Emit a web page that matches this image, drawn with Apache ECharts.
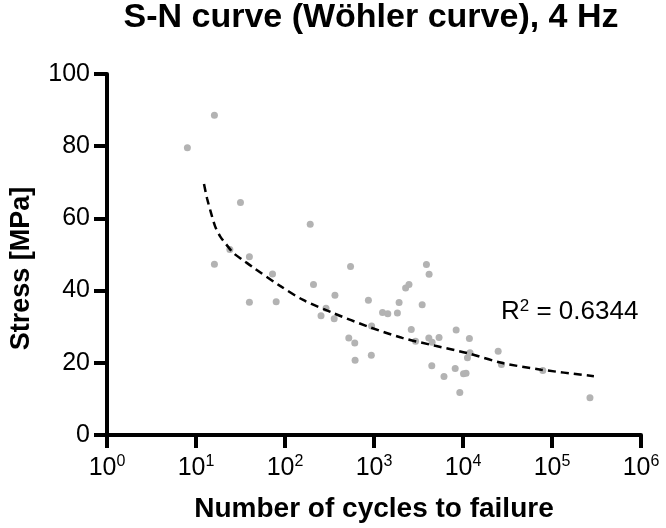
<!DOCTYPE html>
<html>
<head>
<meta charset="utf-8">
<script src="https://cdn.jsdelivr.net/npm/echarts@6/dist/echarts.min.js"></script>
<style>html,body{margin:0;padding:0;background:#fff}#c{width:666px;height:528px}</style>
</head>
<body>
<div id="c"></div>
<script>
// Measured data points (cycles to failure, stress in MPa)
var cycles = [8.0, 16.1, 31.6, 16.1, 24.0, 39.8, 39.8, 72.4, 79.6, 192, 209, 364, 289, 254, 357, 545, 865, 521, 608, 613, 940, 933, 1247, 1429,
  1832, 1914, 2266, 2472, 2623, 2930, 3477, 3882, 4160, 4130, 4497, 4460, 5383, 6115, 8375, 8170, 9205, 10130, 10820, 11800, 11990, 11220, 24840, 27040, 78800, 267000];
var stress = [79.6, 88.6, 64.4, 47.3, 51.4, 49.4, 36.8, 44.6, 36.9, 58.4, 41.7, 38.7, 35.1, 33.0, 32.2, 46.7, 37.3, 26.9, 25.5, 20.7, 30.2, 22.1, 33.9, 33.6,
  33.8, 36.7, 40.7, 41.7, 29.2, 26.0, 36.1, 47.2, 44.5, 26.9, 25.7, 19.2, 27.0, 16.2, 29.1, 18.4, 11.8, 17.0, 17.1, 26.7, 22.8, 21.4, 23.2, 19.5, 17.9, 10.3];
// Fit curve
var fitCycles = [12.3, 13.3, 14.8, 16.4, 18.6, 21.7, 26.6, 34.4, 44.5, 88.1, 160, 346, 887, 2082, 4890, 11510, 27040, 75400, 295800];
var fitStress = [69.5, 65.6, 61.4, 57.8, 55.1, 52.9, 50.3, 48.3, 46.3, 41.3, 37.4, 33.8, 29.9, 26.9, 24.7, 22.6, 20.0, 18.1, 16.3];
var yTicks = [0, 20, 40, 60, 80, 100];
var titleText = 'S-N curve (Wöhler curve), 4 Hz';
var xName = 'Number of cycles to failure';
var yName = 'Stress [MPa]';
var r2Value = '0.6344';

var FONT = '"Liberation Sans", Arial, Helvetica, sans-serif';
var scatterData = cycles.map(function (c, i) { return [c, stress[i]]; });
var fitData = fitCycles.map(function (c, i) { return [c, fitStress[i]]; });

var chart = echarts.init(document.getElementById('c'), null, {renderer: 'canvas'});
chart.setOption({
  backgroundColor: '#ffffff',
  animation: false,
  title: [{
    text: titleText,
    left: 371,
    textAlign: 'center',
    top: 1,
    padding: 0,
    textStyle: {fontFamily: FONT, fontSize: 34, fontWeight: 'bold', color: '#000'}
  }, {
    text: '{a|R}{s|2}{a| = ' + r2Value + '}',
    left: 501,
    top: 298,
    padding: 0,
    textStyle: {
      fontWeight: 'normal',
      fontFamily: FONT,
      rich: {
        a: {fontFamily: FONT, fontSize: 26, fontWeight: 'normal', lineHeight: 28, color: '#000'},
        s: {fontFamily: FONT, fontSize: 17, fontWeight: 'normal', lineHeight: 17, color: '#000', verticalAlign: 'top', padding: [0, 0, 4, 0]}
      }
    }
  }],
  grid: {left: 102, right: 25, top: 74, bottom: 93, containLabel: false},
  xAxis: {
    type: 'log',
    logBase: 10,
    min: 1,
    max: 1000000,
    interval: 1,
    name: xName,
    nameLocation: 'middle',
    nameGap: 60,
    nameTextStyle: {fontFamily: FONT, fontSize: 28, fontWeight: 'bold', color: '#000'},
    axisLine: {show: true, onZero: false, lineStyle: {color: '#000', width: 4}},
    axisTick: {show: true, length: 13, lineStyle: {color: '#000', width: 4}},
    minorTick: {show: false},
    splitLine: {show: false},
    axisLabel: {
      margin: 19,
      formatter: function (v) {
        var e = Math.round(Math.log10(v));
        return '{b|10}{s|' + e + '}';
      },
      rich: {
        b: {fontFamily: FONT, fontSize: 25, lineHeight: 28, color: '#000'},
        s: {fontFamily: FONT, fontSize: 16, lineHeight: 16, color: '#000', verticalAlign: 'top'}
      }
    }
  },
  yAxis: {
    type: 'value',
    min: yTicks[0],
    max: yTicks[yTicks.length - 1],
    interval: 20,
    name: yName,
    nameLocation: 'middle',
    nameGap: 72,
    nameTextStyle: {fontFamily: FONT, fontSize: 27, fontWeight: 'bold', color: '#000', padding: [0, 28, 0, 0]},
    axisLine: {show: true, lineStyle: {color: '#000', width: 4}},
    axisTick: {show: true, length: 13, lineStyle: {color: '#000', width: 4}},
    splitLine: {show: false},
    axisLabel: {margin: 17, fontFamily: FONT, fontSize: 25, color: '#000'}
  },
  series: [{
    type: 'scatter',
    data: scatterData,
    symbol: 'circle',
    symbolSize: 7,
    itemStyle: {color: '#b3b3b3', opacity: 1},
    z: 2
  }, {
    type: 'line',
    data: fitData,
    smooth: 0.3,
    showSymbol: false,
    symbol: 'none',
    lineStyle: {color: '#000', width: 2.5, type: [8, 5]},
    z: 3
  }]
});
</script>
</body>
</html>
